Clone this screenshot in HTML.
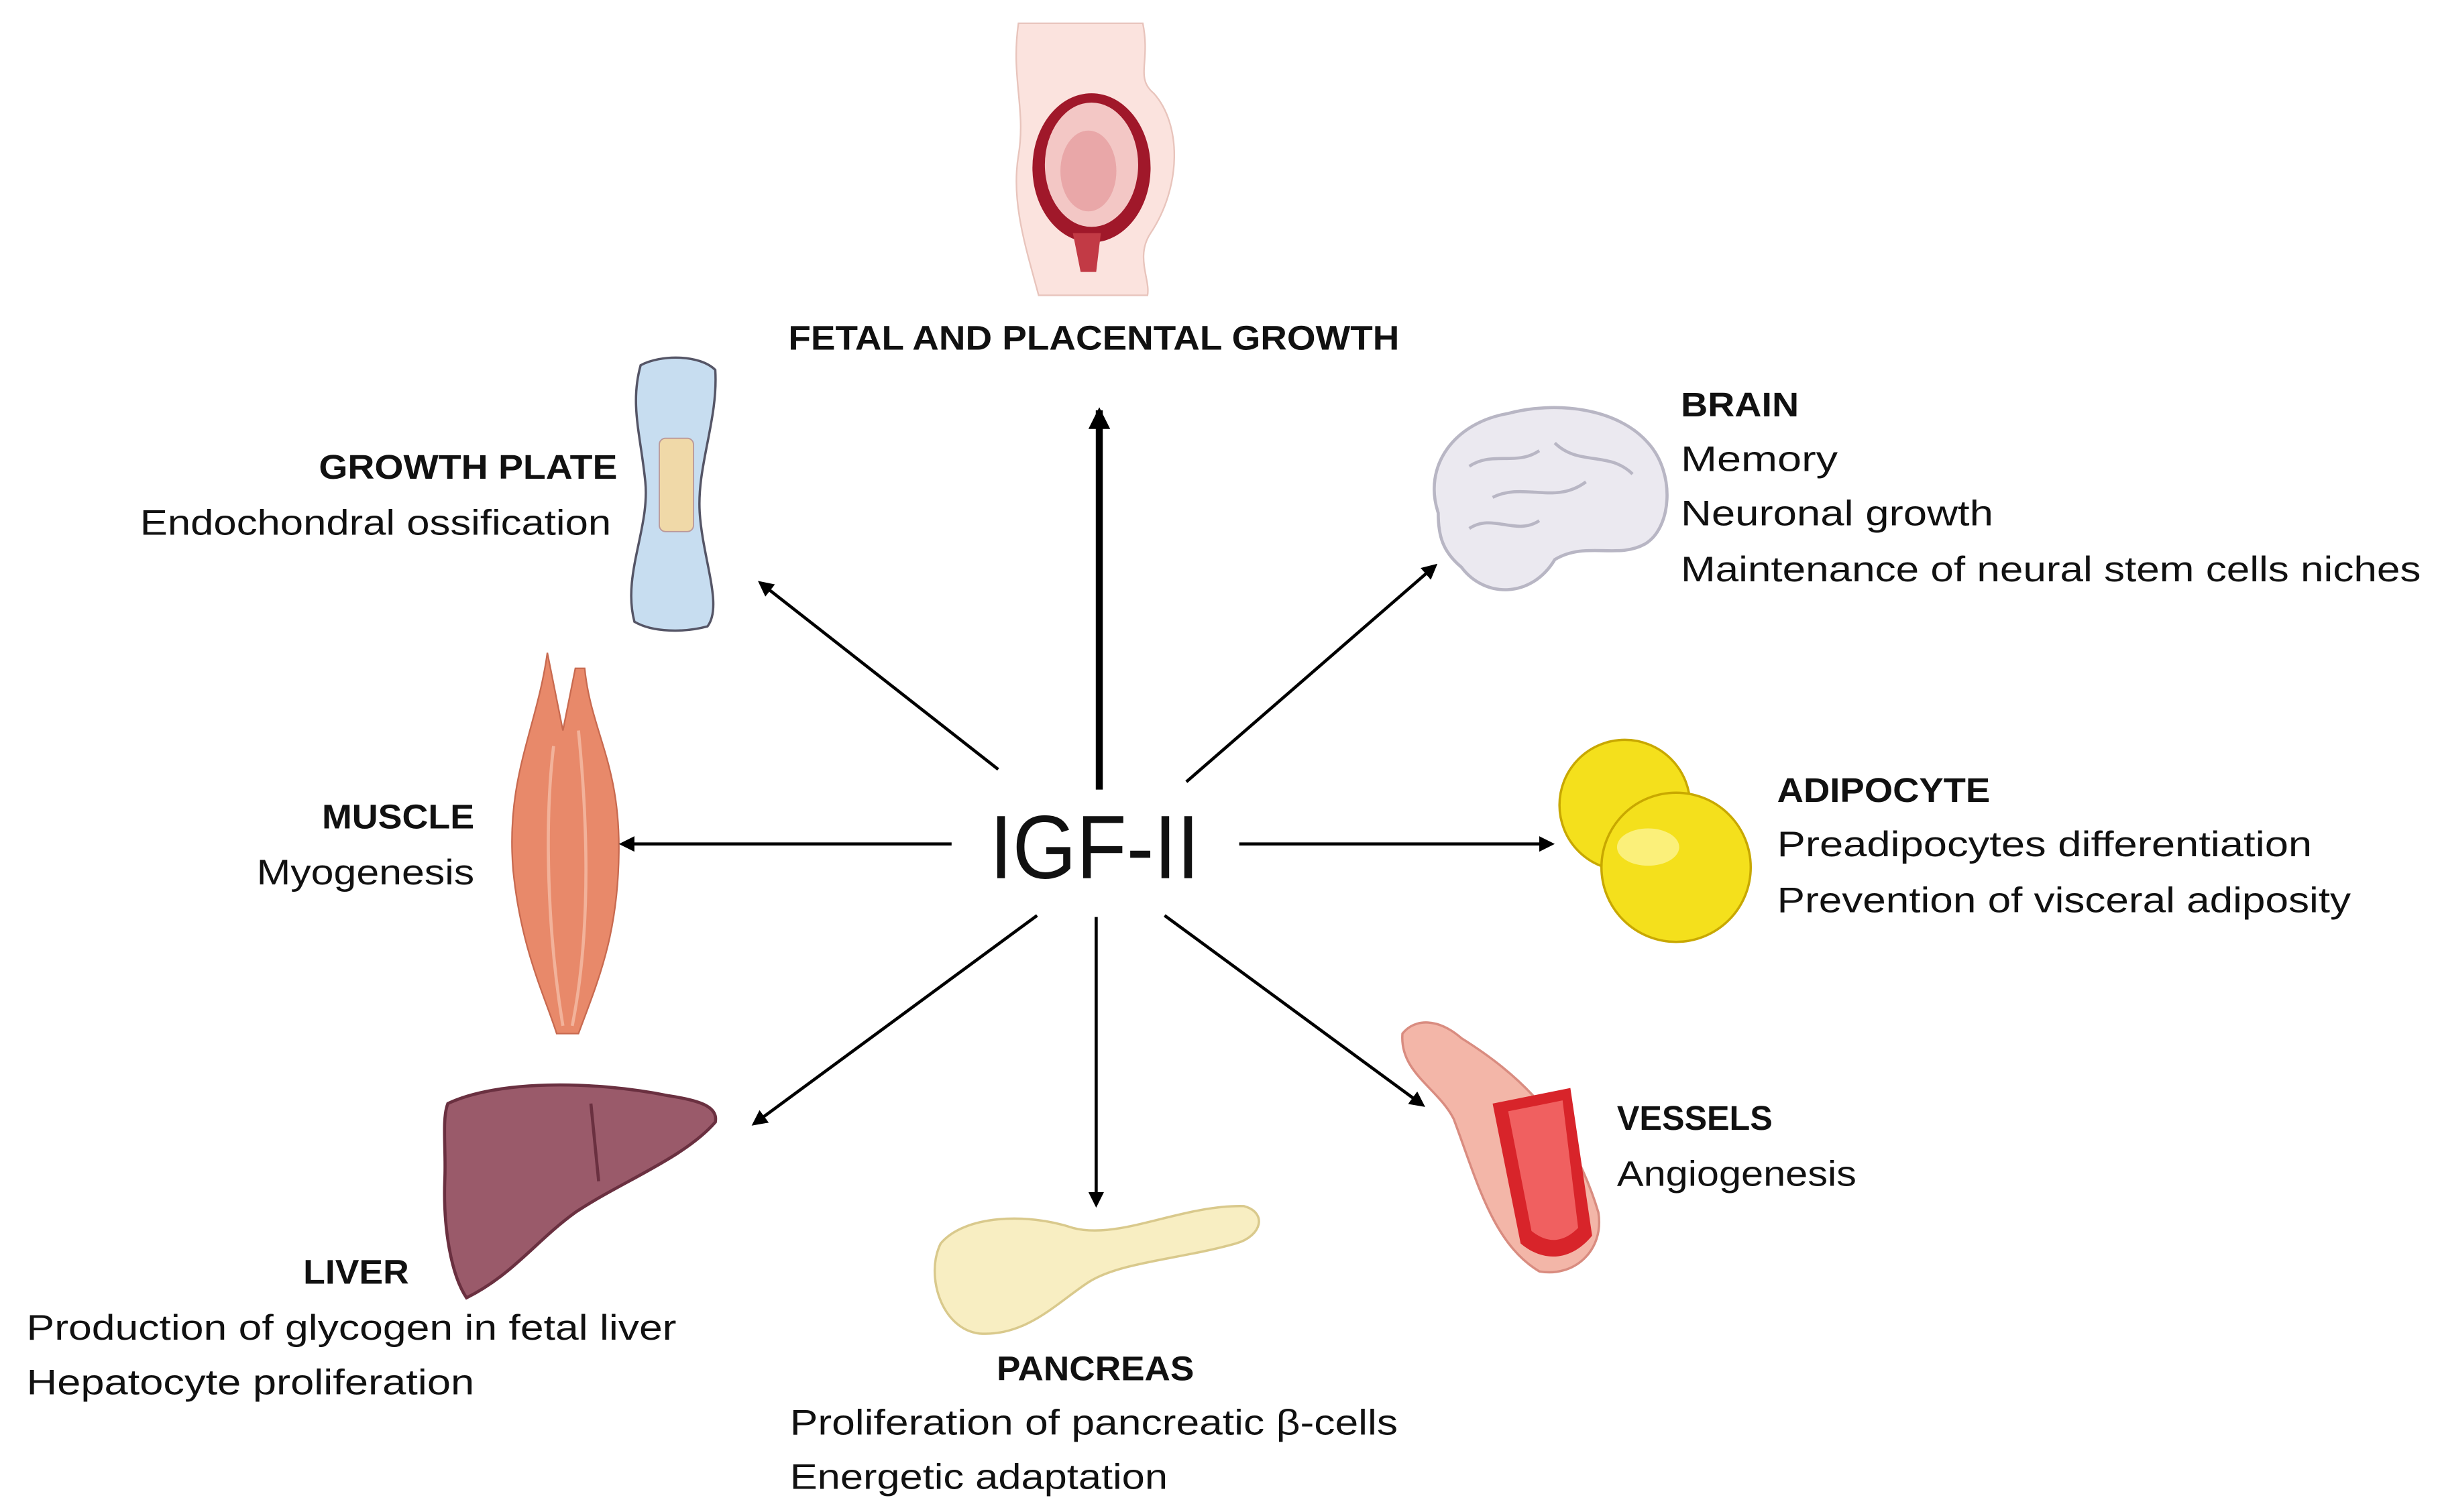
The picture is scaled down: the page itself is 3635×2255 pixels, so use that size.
<!DOCTYPE html>
<html><head><meta charset="utf-8"><style>
html,body{margin:0;padding:0;background:#fff;}
svg{display:block;}
text{font-family:"Liberation Sans",sans-serif;fill:#111;}
.b{font-weight:bold;font-size:22px;}
.n{font-size:23px;}
</style></head><body>
<svg width="3635" height="2255" viewBox="0 0 1568 972.8" xmlns="http://www.w3.org/2000/svg">
<defs>
<marker id="ah" markerWidth="10" markerHeight="10" refX="8" refY="5" orient="auto" markerUnits="userSpaceOnUse">
<path d="M0,0 L10,5 L0,10 z" fill="#000"/></marker>
<marker id="ah2" markerWidth="14" markerHeight="14" refX="12" refY="7" orient="auto" markerUnits="userSpaceOnUse">
<path d="M0,0 L14,7 L0,14 z" fill="#000"/></marker>
</defs>
<rect width="1568" height="973" fill="#fff"/>

<!-- pregnant woman -->
<path d="M655,15 L735,15 C740,40 730,50 742,60 C760,80 760,120 740,150 C730,165 740,180 738,190 L668,190 C660,160 650,130 655,100 C660,70 650,50 655,15 Z" fill="#fbe3de" stroke="#e8c4bc" stroke-width="1"/>
<ellipse cx="702" cy="108" rx="38" ry="48" fill="#a0182a"/>
<ellipse cx="702" cy="106" rx="30" ry="40" fill="#f3c7c5"/>
<ellipse cx="700" cy="110" rx="18" ry="26" fill="#e9a7a8"/>
<path d="M690,150 L695,175 L705,175 L708,150 Z" fill="#c23a45"/>

<!-- growth plate -->
<path d="M412,235 C425,228 450,228 460,238 C462,270 448,300 450,330 C452,360 465,390 455,403 C440,407 420,407 408,400 C400,370 418,340 415,310 C412,280 405,260 412,235 Z" fill="#c7ddf0" stroke="#556" stroke-width="1.5"/>
<rect x="424" y="282" width="22" height="60" rx="4" fill="#f0d9a8" stroke="#b99" stroke-width="0.8"/>

<!-- brain -->
<path d="M925,330 C915,300 935,272 970,266 C1000,258 1040,262 1060,285 C1078,305 1075,340 1058,350 C1040,360 1020,348 1000,360 C985,385 955,385 940,365 C928,355 925,345 925,330 Z" fill="#ebe9f0" stroke="#b8b6c4" stroke-width="2"/>
<path d="M945,300 C960,290 975,300 990,290 M960,320 C980,310 1000,325 1020,310 M1000,285 C1015,300 1035,290 1050,305 M945,340 C960,330 975,345 990,335" fill="none" stroke="#b8b6c4" stroke-width="2"/>

<!-- muscle -->
<path d="M352,420 C345,470 325,500 330,560 C335,610 350,640 358,665 L372,665 C385,630 398,600 398,545 C398,490 380,470 376,430 L370,430 L362,470 Z" fill="#e8896a" stroke="#c86a50" stroke-width="1"/>
<path d="M356,480 C350,530 352,600 362,660 M372,470 C378,530 380,600 368,660" fill="none" stroke="#f2b29a" stroke-width="2"/>

<!-- adipocyte -->
<circle cx="1045" cy="518" r="42" fill="#f4e01c" stroke="#c8a800" stroke-width="1.5"/>
<circle cx="1078" cy="558" r="48" fill="#f4e01c" stroke="#c8a800" stroke-width="1.5"/>
<ellipse cx="1060" cy="545" rx="20" ry="12" fill="#fbf07a"/>

<!-- vessel -->
<path d="M902,665 C910,655 925,655 940,668 C975,690 1010,720 1028,780 C1032,805 1012,822 990,818 C960,800 950,760 935,720 C925,700 900,690 902,665 Z" fill="#f3b6a8" stroke="#d98c80" stroke-width="1.5"/>
<path d="M960,710 L1010,700 L1024,795 C1010,812 992,812 978,800 Z" fill="#d8242a"/>
<path d="M970,715 L1005,708 L1015,790 C1005,800 995,800 985,792 Z" fill="#f06060"/>

<!-- liver -->
<path d="M288,710 C320,695 380,695 430,705 C450,708 462,712 460,722 C440,745 400,760 370,780 C345,798 330,820 300,835 C290,820 285,790 286,760 C287,740 284,720 288,710 Z" fill="#9a5a6a" stroke="#6a3040" stroke-width="2"/>
<path d="M380,710 L385,760" stroke="#6a3040" stroke-width="2" fill="none"/>

<!-- pancreas -->
<path d="M605,800 C620,782 660,780 690,790 C720,798 760,775 800,776 C815,780 812,795 795,800 C760,810 720,812 700,825 C680,838 660,860 630,858 C605,855 595,820 605,800 Z" fill="#f8eec2" stroke="#d9c98c" stroke-width="1.5"/>

<!-- arrows -->
<g stroke="#000" stroke-width="2" fill="none">
<line x1="707" y1="508" x2="707" y2="264" stroke-width="4.5" marker-end="url(#ah2)"/>
<line x1="642" y1="495" x2="489" y2="375" marker-end="url(#ah)"/>
<line x1="763" y1="503" x2="923" y2="364" marker-end="url(#ah)"/>
<line x1="612" y1="543" x2="400" y2="543" marker-end="url(#ah)"/>
<line x1="797" y1="543" x2="998" y2="543" marker-end="url(#ah)"/>
<line x1="667" y1="589" x2="485" y2="723" marker-end="url(#ah)"/>
<line x1="705" y1="590" x2="705" y2="775" marker-end="url(#ah)"/>
<line x1="749" y1="589" x2="915" y2="711" marker-end="url(#ah)"/>
</g>

<g lengthAdjust="spacingAndGlyphs">
<text x="704" y="565" text-anchor="middle" font-size="58" textLength="135" lengthAdjust="spacingAndGlyphs">IGF-II</text>

<text class="b" x="507" y="225" textLength="393" lengthAdjust="spacingAndGlyphs">FETAL AND PLACENTAL GROWTH</text>
<text class="b" x="205" y="308" textLength="192" lengthAdjust="spacingAndGlyphs">GROWTH PLATE</text>
<text class="n" x="90" y="344" textLength="303" lengthAdjust="spacingAndGlyphs">Endochondral ossification</text>
<text class="b" x="1081" y="268" textLength="76" lengthAdjust="spacingAndGlyphs">BRAIN</text>
<text class="n" x="1081" y="303" textLength="101" lengthAdjust="spacingAndGlyphs">Memory</text>
<text class="n" x="1081" y="338" textLength="201" lengthAdjust="spacingAndGlyphs">Neuronal growth</text>
<text class="n" x="1081" y="374" textLength="476" lengthAdjust="spacingAndGlyphs">Maintenance of neural stem cells niches</text>
<text class="b" x="207" y="533" textLength="98" lengthAdjust="spacingAndGlyphs">MUSCLE</text>
<text class="n" x="165" y="569" textLength="140" lengthAdjust="spacingAndGlyphs">Myogenesis</text>
<text class="b" x="1143" y="516" textLength="137" lengthAdjust="spacingAndGlyphs">ADIPOCYTE</text>
<text class="n" x="1143" y="551" textLength="344" lengthAdjust="spacingAndGlyphs">Preadipocytes differentiation</text>
<text class="n" x="1143" y="587" textLength="369" lengthAdjust="spacingAndGlyphs">Prevention of visceral adiposity</text>
<text class="b" x="1040" y="727" textLength="100" lengthAdjust="spacingAndGlyphs">VESSELS</text>
<text class="n" x="1040" y="763" textLength="154" lengthAdjust="spacingAndGlyphs">Angiogenesis</text>
<text class="b" x="195" y="826" textLength="68" lengthAdjust="spacingAndGlyphs">LIVER</text>
<text class="n" x="17" y="862" textLength="418" lengthAdjust="spacingAndGlyphs">Production of glycogen in fetal liver</text>
<text class="n" x="17" y="897" textLength="288" lengthAdjust="spacingAndGlyphs">Hepatocyte proliferation</text>
<text class="b" x="641" y="888" textLength="127" lengthAdjust="spacingAndGlyphs">PANCREAS</text>
<text class="n" x="508" y="923" textLength="391" lengthAdjust="spacingAndGlyphs">Proliferation of pancreatic β-cells</text>
<text class="n" x="508" y="958" textLength="243" lengthAdjust="spacingAndGlyphs">Energetic adaptation</text>
</g>
</svg>
</body></html>
